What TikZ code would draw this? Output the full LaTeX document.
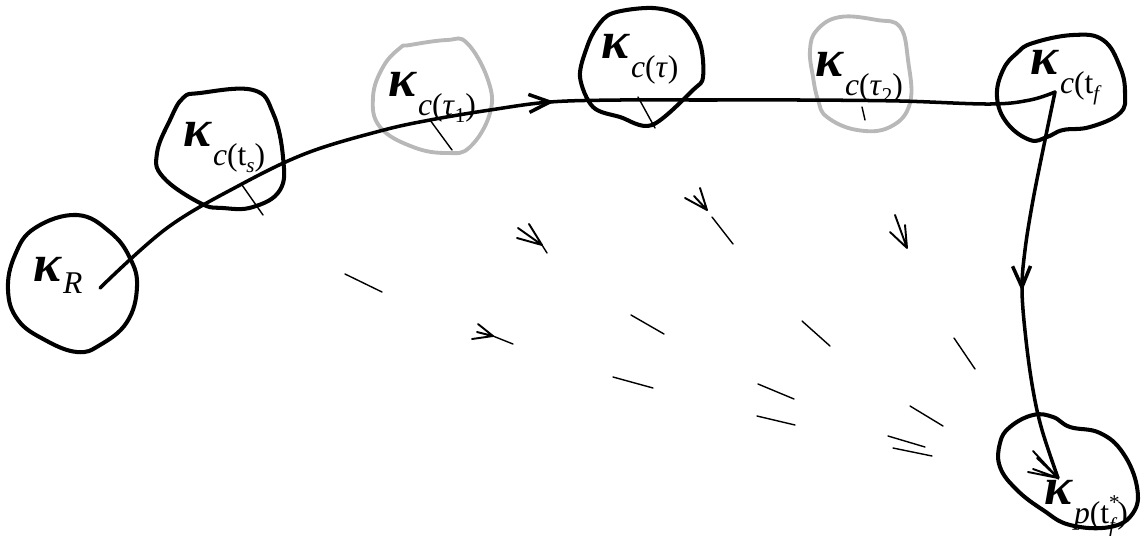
\documentclass[tikz,border=0pt]{standalone}
\usepackage{fontspec}
\setmainfont{Liberation Serif}
\usetikzlibrary{arrows.meta,decorations.markings}
\tikzset{
  blob/.style={line width=2.3pt, black},
  ghost/.style={line width=2.2pt, black!28},
  route/.style={line width=2pt, line cap=round},
  fine/.style={line width=0.8pt, line cap=round},
  fan/.style={line width=1.1pt, line cap=round},
  lab/.style={anchor=base west, inner sep=0pt},
  midarrow/.style={postaction={decorate}, decoration={markings,
     mark=at position #1 with {\arrow{Straight Barb[length=0.42cm,width=0.36cm,line width=2pt]}}}}
}
\newcommand{\kap}[2][11pt]{{\fontsize{30}{32}\selectfont\bfseries\itshape κ}\kern1pt\raisebox{-#1}{\fontsize{18}{20}\selectfont #2}}
\newcommand{\lo}[1]{\raisebox{-4pt}{\fontsize{12}{14}\selectfont #1}}
\begin{document}
\begin{tikzpicture}[x=0.02cm,y=-0.02cm]
\useasboundingbox (0,0) rectangle (1145,535);
% blobs
\draw[blob] plot[smooth cycle, tension=0.7] coordinates {(77,215) (110,232) (130,258) (137,287) (127,322) (100,345) (77,352) (45,340) (18,320) (8,290) (15,255) (35,228)};
\draw[blob] plot[smooth cycle, tension=0.7] coordinates {(200,93) (253,90) (273,113) (283,157) (280,190) (253,207) (223,208) (200,203) (163,177) (157,153) (170,120) (183,98)};
\draw[ghost] plot[smooth cycle, tension=0.7] coordinates {(410,45) (447,40) (467,43) (488,80) (490,113) (470,147) (447,153) (413,147) (380,127) (373,97) (383,67) (400,48)};
\draw[blob] plot[smooth cycle, tension=0.55] coordinates {(613,13) (653,8) (683,17) (700,43) (703,77) (693,90) (652,125) (620,117) (593,107) (580,77) (587,47) (597,27)};
\draw[ghost] plot[smooth cycle, tension=0.7] coordinates {(840,17) (877,20) (900,27) (908,60) (910,103) (890,127) (857,130) (827,117) (818,100) (813,77) (810,50) (817,30)};
\draw[blob] plot[smooth cycle, tension=0.7] coordinates {(1033,43) (1073,35) (1103,40) (1120,67) (1125,93) (1120,113) (1090,127) (1063,130) (1047,137) (1030,140) (1007,123) (997,97) (1003,70) (1017,53)};
\draw[blob] plot[smooth cycle, tension=0.7] coordinates {(1010,427) (1033,415) (1053,417) (1070,427) (1100,433) (1123,453) (1137,487) (1133,513) (1110,527) (1070,525) (1043,510) (1017,490) (1000,467) (1000,443)};
% labels
\node[lab] (kR) at (33,281) {\kap[7pt]{\textit{R}}};
\node[lab] (kts) at (183,146) {\kap{\textit{c}(t\lo{\textit{s}})}};
\node[lab] (kt1) at (388,96) {\kap{\textit{c}(\textit{τ}\lo{1})}};
\node[lab] (kt) at (601,58) {\kap{\textit{c}(\textit{τ})}};
\node[lab] (kt2) at (815,76) {\kap{\textit{c}(\textit{τ}\lo{2})}};
\node[lab] (ktf) at (1030,74) {\kap{\textit{c}(t\lo{\textit{f}}}};
\node[lab] (kp) at (1044,504) {\kap{\textit{p}(t\rlap{\raisebox{8pt}{\fontsize{12}{14}\selectfont *}}\raisebox{-5pt}{\fontsize{12}{14}\selectfont\textit{f}})}};
% connectors
\coordinate (start) at (100,288);
\coordinate (cf) at (1055,92);
\coordinate (pend) at (1058,478);
\draw[route, midarrow=0.5] plot[smooth, tension=0.6] coordinates {(start) (167,228) (240,185) (307,153) (380,131) (430,120) (490,110) (550,102) (620,100) (700,100) (800,100) (900,101) (990,104) (1030,100) (cf)};
\draw[route, midarrow=0.515] plot[smooth, tension=0.6] coordinates {(cf) (1045,140) (1033,200) (1025,250) (1022,290) (1026,340) (1033,390) (1042,430) (pend)};
\draw[fan] (pend) -- (1033,451) (pend) -- (1037,458) (pend) -- (1028,472) (pend) -- (1033,469);
% ticks at blobs
\draw[fine] (242,185) -- (263,215);
\draw[fine] (430,120) -- (452,150);
\draw[fine] (638,97) -- (655,128);
\draw[fine] (862,107) -- (865,120);
% field strokes
\draw[fine] (345,274) -- (382,292);
\draw[fine] (631,315) -- (664,334);
\draw[fine] (613,377) -- (653,388);
\draw[fine] (802,321) -- (830,346);
\draw[fine] (954,338) -- (975,369);
\draw[fine] (758,384) -- (794,399);
\draw[fine] (757,416) -- (795,425);
\draw[fine] (910,406) -- (943,426);
\draw[fine] (888,436) -- (925,447);
\draw[fine] (893,448) -- (932,456);
\draw[fine] (712,217) -- (733,244);
% sketchy arrowheads
\coordinate (f1) at (542,245);
\draw[fan] (f1) -- (518,228) (f1) -- (529,224) (f1) -- (517,238);
\draw[fine] (f1) -- (547,253);
\coordinate (f2) at (493,336);
\draw[fan] (f2) -- (478,324) (f2) -- (477,332) (f2) -- (472,339);
\draw[fine] (f2) -- (513,344);
\coordinate (f3) at (707,210);
\draw[fan] (f3) -- (685,198) (f3) -- (700,188) (f3) -- (694,196);
\coordinate (f4) at (907,248);
\draw[fan] (f4) -- (890,232) (f4) -- (895,215) (f4) -- (905,225);
\end{tikzpicture}
\end{document}
